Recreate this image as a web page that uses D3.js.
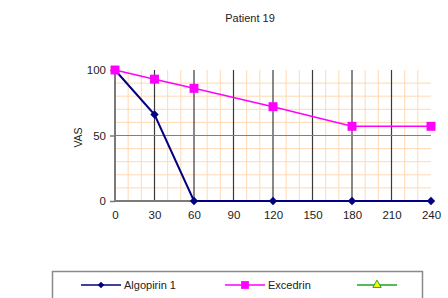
<!DOCTYPE html>
<html>
<head>
<meta charset="utf-8">
<script src="https://cdn.jsdelivr.net/npm/d3@7/dist/d3.min.js"></script>
<style>
  body { margin: 0; background: #fff; }
  svg { display: block; font-family: "Liberation Sans", Arial, sans-serif; }
</style>
</head>
<body>
<svg id="chart" width="448" height="298"></svg>
<script>
// data
const minutes = [0, 30, 60, 120, 180, 240];
const algopirin = [100, 66, 0, 0, 0, 0];
const excedrin = [100, 93, 86, 72, 57, 57];
const xTicks = [0, 30, 60, 90, 120, 150, 180, 210, 240];
const yTicks = [0, 50, 100];
const seriesNames = ['Algopirin 1', 'Excedrin', ''];

const svg = d3.select('#chart');

const x = d3.scaleLinear().domain([0, 240]).range([115, 431]);
const y = d3.scaleLinear().domain([0, 100]).range([201, 70]);

// minor grid, every 10
const grid = svg.append('g');
grid.selectAll('.minx')
  .data(d3.range(10, 240, 10).filter(v => v % 30 !== 0))
  .enter().append('line')
  .attr('x1', d => x(d)).attr('x2', d => x(d))
  .attr('y1', y(100)).attr('y2', y(0))
  .attr('stroke', '#ffd9b3').attr('stroke-width', 1);
grid.selectAll('.miny')
  .data(d3.range(10, 100, 10).filter(v => v % 50 !== 0))
  .enter().append('line')
  .attr('x1', x(0)).attr('x2', x(240))
  .attr('y1', d => y(d)).attr('y2', d => y(d))
  .attr('stroke', '#ffd9b3').attr('stroke-width', 1);

// major grid
grid.selectAll('.majx')
  .data(xTicks.filter(v => v > 0 && v < 240))
  .enter().append('line')
  .attr('x1', d => x(d)).attr('x2', d => x(d))
  .attr('y1', y(100)).attr('y2', y(0))
  .attr('stroke', '#3a3a3a').attr('stroke-width', 1.2);
grid.append('line')
  .attr('x1', x(0)).attr('x2', x(240))
  .attr('y1', y(50)).attr('y2', y(50))
  .attr('stroke', '#808080').attr('stroke-width', 1);

// axes
const xAxis = svg.append('g')
  .attr('transform', `translate(0, ${y(0)})`)
  .call(d3.axisBottom(x).tickValues(xTicks).tickSize(0).tickPadding(10));
const yAxis = svg.append('g')
  .attr('transform', `translate(${x(0)}, 0)`)
  .call(d3.axisLeft(y).tickValues(yTicks).tickSize(5).tickPadding(4));
[xAxis, yAxis].forEach(a => {
  a.select('.domain').attr('stroke', '#7a7a7a').attr('stroke-width', 2);
  a.selectAll('.tick line').attr('stroke', '#7a7a7a').attr('stroke-width', 1.5);
  a.selectAll('text').attr('fill', '#222').style('font-size', '11.5px')
    .style('font-family', '"Liberation Sans", Arial, sans-serif');
});
xAxis.select('.domain').attr('d', `M${x(0)},0H${x(240)}`);
yAxis.select('.domain').attr('d', `M0,${y(100)}V${y(0)}`);

const line = d3.line().x(d => x(d[0])).y(d => y(d[1]));
const diamond = d3.symbol().type(d3.symbolDiamond2).size(45);
const square = d3.symbol().type(d3.symbolSquare).size(80);
const triangle = d3.symbol().type(d3.symbolTriangle).size(30);

// Algopirin
const aPts = minutes.map((m, i) => [m, algopirin[i]]);
svg.append('path').datum(aPts)
  .attr('d', line).attr('fill', 'none')
  .attr('stroke', '#000080').attr('stroke-width', 2);
svg.selectAll('.am').data(aPts).enter().append('path')
  .attr('d', diamond)
  .attr('transform', d => `translate(${x(d[0])},${y(d[1])})`)
  .attr('fill', '#000080');

// Excedrin
const ePts = minutes.map((m, i) => [m, excedrin[i]]);
svg.append('path').datum(ePts)
  .attr('d', line).attr('fill', 'none')
  .attr('stroke', '#ff00ff').attr('stroke-width', 1.5);
svg.selectAll('.em').data(ePts).enter().append('path')
  .attr('d', square)
  .attr('transform', d => `translate(${x(d[0])},${y(d[1])})`)
  .attr('fill', '#ff00ff');

// title and axis label
svg.append('text')
  .attr('x', 250).attr('y', 22)
  .attr('text-anchor', 'middle')
  .style('font-size', '11px').attr('fill', '#222')
  .text('Patient 19');
svg.append('text')
  .attr('transform', `translate(82, ${y(50) + 2}) rotate(-90)`)
  .attr('text-anchor', 'middle')
  .style('font-size', '10.5px').attr('fill', '#222')
  .text('VAS');

// legend
const legend = svg.append('g');
legend.append('rect')
  .attr('x', 52.5).attr('y', 271.5).attr('width', 370).attr('height', 40)
  .attr('fill', '#fff').attr('stroke', '#8a8a8a').attr('stroke-width', 1.5);
const legItems = [
  { name: seriesNames[0], x0: 81, color: '#000080', sym: diamond, fill: '#000080' },
  { name: seriesNames[1], x0: 225, color: '#ff00ff', sym: square, fill: '#ff00ff' },
  { name: seriesNames[2], x0: 357, color: '#22a022', sym: triangle, fill: '#ffff00' }
];
legItems.forEach(it => {
  legend.append('line')
    .attr('x1', it.x0).attr('x2', it.x0 + 40)
    .attr('y1', 285).attr('y2', 285)
    .attr('stroke', it.color).attr('stroke-width', 1.5);
  legend.append('path')
    .attr('d', it.sym.size(it.sym === square ? 60 : (it.sym === diamond ? 28 : 30))())
    .attr('transform', `translate(${it.x0 + 20},285)`)
    .attr('fill', it.fill)
    .attr('stroke', it.sym === triangle ? it.color : 'none');
  legend.append('text')
    .attr('x', it.x0 + 43).attr('y', 289)
    .style('font-size', '11px').attr('fill', '#222')
    .text(it.name);
});
</script>
</body>
</html>
